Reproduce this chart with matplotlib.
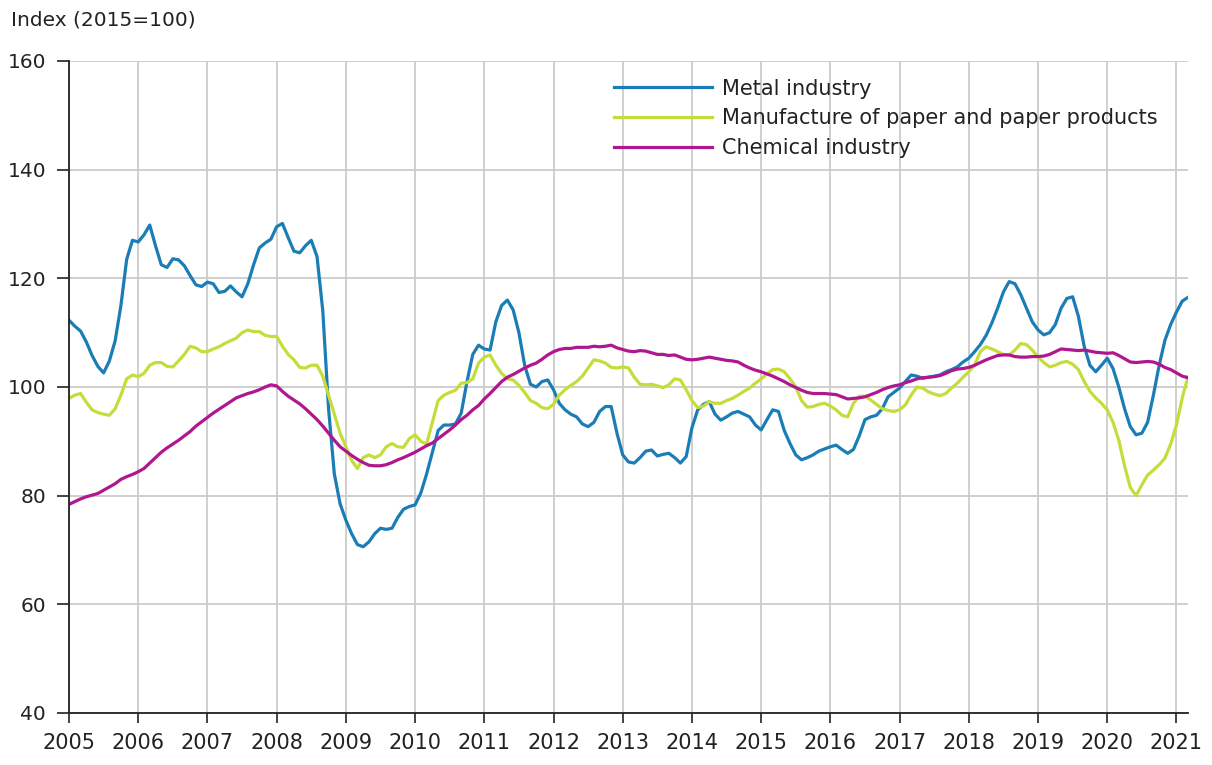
import numpy as np
import matplotlib
matplotlib.use('Agg')
import matplotlib.pyplot as plt

# Monthly index values (2015=100), Jan 2005 .. Mar 2021
metal = [
    112.3, 111.2, 110.3, 108.3, 105.8, 103.8, 102.6, 104.8, 108.5, 115.0, 123.5, 127.0,
    126.7, 128.0, 129.8, 126.0, 122.5, 122.0, 123.6, 123.4, 122.3, 120.5, 118.8, 118.5,
    119.3, 119.0, 117.4, 117.6, 118.6, 117.5, 116.6, 119.0, 122.5, 125.6, 126.5, 127.2,
    129.5, 130.1, 127.5, 125.0, 124.7, 126.0, 127.0, 124.0, 114.0, 96.0, 84.0, 78.5,
    75.5, 73.0, 71.0, 70.6, 71.5, 73.0, 74.0, 73.8, 74.0, 76.0, 77.5, 78.0,
    78.3, 80.5, 84.0, 88.0, 92.0, 93.0, 93.0, 93.2, 95.2, 101.0, 106.0, 107.7,
    107.0, 106.8, 112.0, 115.0, 116.0, 114.2, 110.0, 104.0, 100.5, 100.0, 101.0, 101.3,
    99.5, 97.0, 95.8, 95.0, 94.5, 93.2, 92.7, 93.5, 95.5, 96.4, 96.4, 91.5,
    87.5, 86.2, 86.0, 87.0, 88.2, 88.4, 87.3, 87.6, 87.8, 87.0, 86.0, 87.2,
    92.5, 95.8, 96.8, 97.3, 95.0, 93.9, 94.5, 95.2, 95.5, 95.0, 94.5, 93.0,
    92.1, 94.0, 95.8, 95.5, 92.0, 89.6, 87.5, 86.6, 87.0, 87.5, 88.2, 88.6,
    89.0, 89.3, 88.5, 87.8, 88.5, 91.0, 94.0, 94.5, 94.8, 96.0, 98.2, 99.0,
    99.8, 101.0, 102.2, 102.0, 101.6, 101.8, 102.0, 102.2, 102.8, 103.2, 103.7, 104.6,
    105.3, 106.5, 107.8, 109.5, 111.8, 114.5, 117.5, 119.4, 119.0, 117.0, 114.5, 112.0,
    110.5, 109.6, 110.0, 111.5, 114.5, 116.3, 116.6, 113.0, 107.5, 104.0, 102.8, 104.0,
    105.3, 103.4, 100.0, 96.0, 92.7, 91.2, 91.5, 93.5, 98.5, 104.0, 108.6, 111.5,
    113.8, 115.8, 116.5,
]
paper = [
    97.9, 98.5, 98.8, 97.2, 95.8, 95.3, 95.0, 94.8, 96.0, 98.5, 101.5, 102.2,
    101.9, 102.5, 104.0, 104.5, 104.5, 103.8, 103.7, 104.8, 106.0, 107.5, 107.2, 106.5,
    106.5, 107.0, 107.4, 108.0, 108.5, 109.0, 110.0, 110.5, 110.2, 110.2, 109.5, 109.3,
    109.3, 107.5, 106.0, 105.0, 103.6, 103.5, 104.0, 104.0, 102.0, 98.5, 95.0, 91.5,
    89.0, 86.5, 85.0, 87.0, 87.5, 87.0, 87.5, 89.0, 89.6, 89.0, 88.9, 90.5,
    91.2, 90.0, 89.5, 93.5, 97.5, 98.5, 99.0, 99.4, 100.7, 100.8, 101.5, 104.4,
    105.5, 105.9, 104.0, 102.5, 101.5, 101.3, 100.3, 99.0, 97.5, 97.0, 96.2, 96.0,
    96.8, 98.5, 99.5, 100.3, 101.0, 102.0, 103.5, 105.0, 104.8, 104.4, 103.6, 103.5,
    103.7, 103.5, 101.8, 100.5, 100.4, 100.5, 100.2, 99.9, 100.4, 101.5, 101.3, 99.5,
    97.5, 96.2, 96.5, 97.3, 97.0, 97.0, 97.5, 97.9, 98.5, 99.2, 99.8, 100.7,
    101.5, 102.4, 103.2, 103.3, 102.8, 101.5, 100.0, 97.5, 96.3, 96.4, 96.8, 97.0,
    96.5, 95.8, 94.8, 94.5, 97.0, 98.3, 98.3, 97.6, 96.8, 96.0, 95.7, 95.5,
    95.8, 96.7, 98.5, 100.0, 99.8, 99.1, 98.7, 98.4, 98.8, 99.8, 100.7, 101.8,
    102.8, 104.0, 106.5, 107.4, 107.0, 106.5, 106.0, 105.9, 106.8, 108.0, 107.8, 106.8,
    105.5, 104.5, 103.7, 104.0, 104.5, 104.7, 104.2, 103.2, 101.0, 99.2, 98.0, 97.0,
    95.8, 93.5, 90.2, 85.5, 81.5, 80.0, 82.0, 83.8, 84.7, 85.7, 86.9, 89.5,
    93.0, 98.0, 101.9,
]
chemical = [
    78.4, 78.9, 79.4, 79.8, 80.1, 80.4, 81.0, 81.6, 82.2, 83.0, 83.5, 83.9,
    84.4, 85.0, 86.0, 87.0, 88.0, 88.8, 89.5, 90.2, 91.0, 91.8, 92.8, 93.6,
    94.4, 95.2, 95.9, 96.6, 97.3, 98.0, 98.4, 98.8, 99.1, 99.5, 100.0, 100.4,
    100.2, 99.2, 98.3, 97.6, 96.9, 96.0, 95.0, 94.0, 92.8, 91.5, 90.2, 89.0,
    88.2, 87.4, 86.7, 86.1, 85.6, 85.5, 85.5, 85.7, 86.1, 86.6, 87.0, 87.5,
    88.0, 88.6, 89.2, 89.7, 90.5, 91.3, 92.1, 93.0, 94.0, 94.8, 95.8, 96.6,
    97.8, 98.8, 99.9, 101.0, 101.8, 102.3, 102.9, 103.5, 104.0, 104.4, 105.1, 105.9,
    106.5, 106.9, 107.1, 107.1, 107.3, 107.3, 107.3, 107.5, 107.4, 107.5, 107.7, 107.2,
    106.9, 106.6, 106.5, 106.7, 106.6, 106.3, 106.0, 106.0, 105.8, 105.9, 105.5, 105.1,
    105.0, 105.1, 105.3, 105.5, 105.3, 105.1, 104.9, 104.8, 104.6, 104.0, 103.5, 103.1,
    102.8, 102.4, 102.0, 101.5, 101.0, 100.4, 99.9, 99.4, 99.0, 98.8, 98.8, 98.8,
    98.7, 98.6, 98.2, 97.8, 97.9, 98.0, 98.2, 98.6, 99.0, 99.5, 99.9, 100.2,
    100.4, 100.8, 101.1, 101.5, 101.7, 101.8, 101.9, 102.1, 102.5, 103.0, 103.3, 103.4,
    103.6, 104.0, 104.5, 105.0, 105.4, 105.8, 105.9, 105.9, 105.6, 105.5, 105.5, 105.6,
    105.6, 105.7, 106.0, 106.5, 107.0, 106.9, 106.8, 106.7, 106.8, 106.6, 106.4, 106.3,
    106.2, 106.3, 105.8, 105.2, 104.6, 104.5, 104.6, 104.7, 104.6, 104.2, 103.6, 103.2,
    102.6, 102.0, 101.7,
]
labels = ['Metal industry', 'Manufacture of paper and paper products', 'Chemical industry']
colors = ['#1a7db5', '#c5dc3a', '#b0178f']
years = list(range(2005, 2022))

t = 2005 + np.arange(len(metal)) / 12.0

fig = plt.figure(figsize=(12.12, 7.65), dpi=100)
ax = fig.add_axes([69/1212, 52/765, (1188-69)/1212, (713-61)/765])

for s, lab, c in zip([metal, paper, chemical], labels, colors):
    ax.plot(t, s, color=c, lw=2.3, label=lab, solid_joinstyle='round')

ax.set_xlim(2005, t[-1])
ax.set_ylim(40, 160)
ax.set_yticks(range(40, 161, 20))
ax.set_xticks(years)
ax.set_xticklabels([str(y) for y in years])
ax.grid(True, color='#cccccc', lw=1.3)
ax.set_axisbelow(True)
for side in ['top', 'right']:
    ax.spines[side].set_visible(False)
for side in ['left', 'bottom']:
    ax.spines[side].set_linewidth(1.3)
    ax.spines[side].set_color('#222222')
ax.tick_params(axis='both', width=1.2, color='#222222', labelcolor='#222222')
ax.tick_params(axis='x', length=7.5, pad=7, labelsize=15)
ax.tick_params(axis='y', length=8.5, pad=8, labelsize=14.5)

fig.text(11/1212, 1 - 20/765, 'Index (2015=100)', fontsize=14.5, color='#222222',
         ha='left', va='center')

leg = ax.legend(loc='upper left', bbox_to_anchor=(530/1119, 1.0 - 3/652), frameon=False,
                fontsize=15, handlelength=4.7, handletextpad=0.5, labelspacing=0.47,
                borderaxespad=0.3)
for txt in leg.get_texts():
    txt.set_color('#222222')

fig.savefig('out.png', dpi=100)
